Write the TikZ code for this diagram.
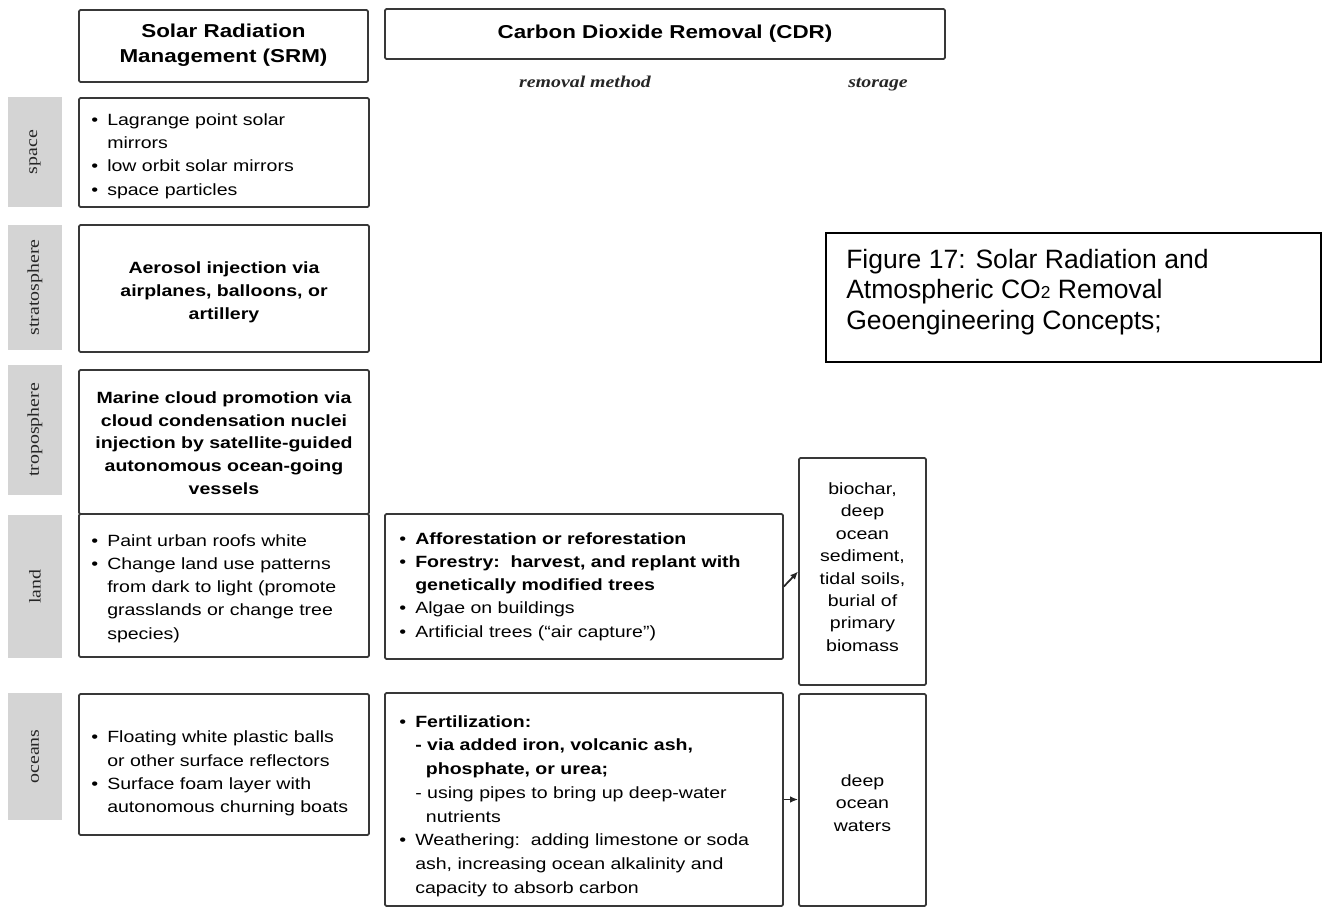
\documentclass[tikz,border=0pt]{standalone}
\usepackage{fontspec}
\setmainfont{Liberation Sans}[FakeStretch=1.2]
\newfontfamily\capfont{Liberation Sans}
\newfontfamily\serifst{Liberation Serif}[FakeStretch=1.2]
\usetikzlibrary{arrows.meta}
\newcommand{\bi}{\makebox[12pt][l]{\textbullet}}
\newcommand{\ind}{\hspace*{12pt}}
\begin{document}
\begin{tikzpicture}[x=0.75pt,y=-0.75pt,
  box/.style={draw=black!78,line width=1.3pt,rounded corners=1pt,inner sep=0pt},
  graylab/.style={fill=black!17,inner sep=0pt,rotate=90,minimum height=40.5pt,
     font=\serifst\fontsize{12.4}{14}\selectfont,text=black!85},
  txt/.style={inner sep=0pt,text=black,font=\fontsize{12.2}{17.4}\selectfont},
  hdr/.style={inner sep=0pt,text=black,font=\fontsize{14}{18.75}\selectfont\bfseries,align=center},
  sub/.style={inner sep=0pt,anchor=base,text=black!85,font=\serifst\fontsize{12.4}{14}\selectfont\bfseries\itshape},
  arr/.style={draw=black!85,line width=1.3pt,-{Latex[length=6pt,width=5pt]}}
]
\useasboundingbox (0,0) rectangle (1323,909);
\fill[white] (0,0) rectangle (1323,909);

% header boxes
\node[box,minimum width=216.75pt,minimum height=54pt] (srm) at (223.5,46) {};
\node[hdr] (srmT) at (223.5,45) {Solar Radiation\\Management (SRM)};
\node[box,minimum width=420pt,minimum height=37.5pt] (cdr) at (665,34) {};
\node[hdr] (cdrT) at (665,34) {Carbon Dioxide Removal (CDR)};
\node[sub] (rm) at (585,88) {removal method};
\node[sub] (sto) at (878,88) {storage};

% gray row labels
\node[graylab,minimum width=82.5pt] (gspace) at (35,152) {space};
\node[graylab,minimum width=93.75pt] (gstrat) at (35,287.5) {stratosphere};
\node[graylab,minimum width=97.5pt] (gtropo) at (35,430) {troposphere};
\node[graylab,minimum width=107.25pt] (gland) at (35,586.5) {land};
\node[graylab,minimum width=95.25pt] (gocean) at (35,756.5) {oceans};

% SRM boxes
\node[box,minimum width=217.5pt,minimum height=81.75pt] (space) at (224,152.5) {};
\node[txt,anchor=west,align=left] (spaceT) at (91,156)
  {\bi Lagrange point solar\\\ind mirrors\\\bi low orbit solar mirrors\\\bi space particles};

\node[box,minimum width=217.5pt,minimum height=95.25pt] (strat) at (224,288.5) {};
\node[txt,align=center,font=\fontsize{12.2}{17.2}\selectfont\bfseries] (stratT) at (224,292)
  {Aerosol injection via\\airplanes, balloons, or\\artillery};

\node[box,minimum width=217.5pt,minimum height=108pt] (tropo) at (224,442) {};
\node[txt,align=center,font=\fontsize{12.2}{17}\selectfont\bfseries] (tropoT) at (224,443)
  {Marine cloud promotion via\\cloud condensation nuclei\\injection by satellite-guided\\autonomous ocean-going\\vessels};

\node[box,minimum width=217.5pt,minimum height=107.25pt] (landS) at (224,585.5) {};
\node[txt,anchor=west,align=left] (landST) at (91,588.5)
  {\bi Paint urban roofs white\\\bi Change land use patterns\\\ind from dark to light (promote\\\ind grasslands or change tree\\\ind species)};

\node[box,minimum width=217.5pt,minimum height=105.75pt] (oceanS) at (224,764.5) {};
\node[txt,anchor=west,align=left] (oceanST) at (91,773.5)
  {\bi Floating white plastic balls\\\ind or other surface reflectors\\\bi Surface foam layer with\\\ind autonomous churning boats};

% CDR boxes
\node[box,minimum width=298.5pt,minimum height=108.75pt] (landC) at (584,586.5) {};
\node[txt,anchor=west,align=left] (landCT) at (399,586.5)
  {\bi\textbf{Afforestation or reforestation}\\\bi\textbf{Forestry:\ \ harvest, and replant with}\\\ind\textbf{genetically modified trees}\\\bi Algae on buildings\\\bi Artificial trees (“air capture”)};

\node[box,minimum width=298.5pt,minimum height=159.75pt] (oceanC) at (584,799.5) {};
\node[txt,anchor=west,align=left,font=\fontsize{12.2}{17.8}\selectfont] (oceanCT) at (399,806)
  {\bi\textbf{Fertilization:}\\\ind\textbf{- via added iron, volcanic ash,}\\\ind\hspace*{8pt}\textbf{phosphate, or urea;}\\\ind - using pipes to bring up deep-water\\\ind\hspace*{8pt}nutrients\\\bi Weathering:\ \ adding limestone or soda\\\ind ash, increasing ocean alkalinity and\\\ind capacity to absorb carbon};

% storage boxes
\node[box,minimum width=95.25pt,minimum height=170.25pt] (st1) at (862.5,571.5) {};
\node[txt,align=center,font=\fontsize{12.2}{16.8}\selectfont] (st1T) at (862.5,567)
  {biochar,\\deep\\ocean\\sediment,\\tidal soils,\\burial of\\primary\\biomass};
\node[box,minimum width=95.25pt,minimum height=159pt] (st2) at (862.5,800) {};
\node[txt,align=center,font=\fontsize{12.2}{16.8}\selectfont] (st2T) at (862.5,803)
  {deep\\ocean\\waters};

% connectors
\draw[arr] (landC.east) -- (st1.west);
\draw[arr] (oceanC.east) -- (oceanC.east -| st2.west);

% caption box
\node[draw=black,line width=1pt,inner sep=0pt,minimum width=371.25pt,minimum height=96.75pt] (cap) at (1073.5,297.5) {};
\node[inner sep=0pt,anchor=west,align=left,font=\capfont\fontsize{19.9}{22.9}\selectfont] (capT) at (846,292)
  {Figure 17: Solar Radiation and\\Atmospheric CO{\fontsize{13}{13}\selectfont 2} Removal\\Geoengineering Concepts;};
\end{tikzpicture}
\end{document}
